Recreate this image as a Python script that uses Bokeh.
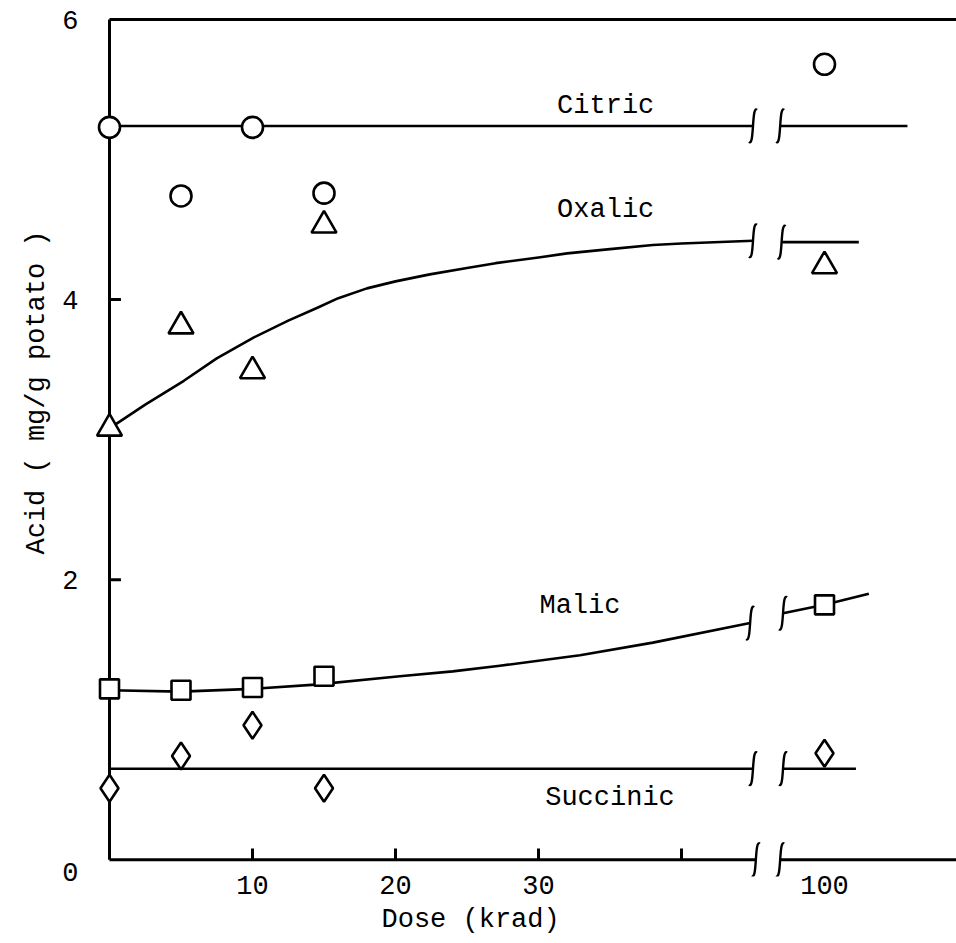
import math
from bokeh.plotting import figure
from bokeh.models import FixedTicker, Range1d, Title
from bokeh.core.properties import value
from bokeh.embed import file_html
from bokeh.resources import INLINE

# ---- data ----
dose = [0, 5, 10, 15, 100]
citric = [5.23, 4.74, 5.23, 4.76, 5.68]
oxalic = [3.08, 3.81, 3.49, 4.53, 4.24]
malic = [1.22, 1.21, 1.23, 1.31, 1.82]
succinic = [0.51, 0.74, 0.96, 0.51, 0.76]

# fitted curves (dose, value)
citric_fit_dose = [0, 45, 69, 158]
citric_fit = [5.24, 5.24, 5.24, 5.24]
oxalic_fit_dose = [0, 2.5, 5.2, 7.5, 10.1, 12.5, 14.5, 16, 18, 20, 22.4, 25, 27, 30, 32, 35, 38, 40, 45, 70, 124]
oxalic_fit = [3.08, 3.25, 3.42, 3.58, 3.73, 3.85, 3.94, 4.01, 4.08, 4.13, 4.18, 4.225, 4.26, 4.30, 4.33, 4.36, 4.39, 4.40, 4.42, 4.41, 4.41]
malic_fit_dose = [0, 5, 10, 14.4, 20.3, 24, 27.3, 32.9, 38.0, 44.8, 71, 100, 131]
malic_fit = [1.21, 1.20, 1.22, 1.25, 1.31, 1.345, 1.385, 1.46, 1.55, 1.69, 1.76, 1.82, 1.90]
succinic_fit_dose = [0, 45, 71, 122]
succinic_fit = [0.65, 0.65, 0.65, 0.65]

names = ["Citric", "Oxalic", "Malic", "Succinic"]
name_dose = [34.7, 34.7, 32.9, 35.0]
name_val = [5.38, 4.64, 1.81, 0.44]

y_ticks = [0, 2, 4, 6]
x_ticks = [10, 20, 30, 100]
x_tick_marks = [10, 20, 30, 40]
ORIGIN_LABEL_DROP = 0.09   # the "0" sits a little below the x axis

# ---- broken x scale: linear up to 45 krad, compressed after the break ----
BREAK_LO = 45.2
BREAK_HI = 46.9


def xpos(d):
    return d if d <= BREAK_LO else 50 + (d - 100) * 0.1


FONT = "Liberation Mono"
FS = "27px"
LW = 2.6
W, H = 956, 943

x_end = (W - 109) / 14.3
p = figure(width=W, height=H,
           x_range=Range1d(-21 / 14.3, x_end), y_range=Range1d(-0.12, 859 / 140),
           output_backend="svg", toolbar_location=None,
           min_border_left=88, min_border_right=0, min_border_top=0,
           min_border_bottom=H - 876)
p.title = None
p.outline_line_color = None
p.xgrid.visible = False
p.ygrid.visible = False
p.background_fill_color = "white"
p.border_fill_color = "white"

# Bokeh axes supply the tick labels
for ax in (p.xaxis[0], p.yaxis[0]):
    ax.axis_line_color = None
    ax.major_tick_line_color = None
    ax.minor_tick_line_color = None
    ax.major_label_text_font = FONT
    ax.major_label_text_font_size = FS
    ax.major_label_text_color = "black"
y_label_pos = [t if t != 0 else -ORIGIN_LABEL_DROP for t in y_ticks]
p.yaxis.ticker = FixedTicker(ticks=y_label_pos)
p.yaxis.major_label_overrides = {pos: str(t) for pos, t in zip(y_label_pos, y_ticks)}
p.yaxis.major_label_standoff = 4
x_label_pos = [xpos(t) for t in x_ticks]
p.xaxis.ticker = FixedTicker(ticks=x_label_pos)
p.xaxis.major_label_overrides = {pos: str(t) for pos, t in zip(x_label_pos, x_ticks)}
p.xaxis.major_label_standoff = -7

# axis titles
p.add_layout(Title(text="Dose (krad)", align="left", offset=293, standoff=12,
                   text_font=FONT, text_font_size=FS, text_font_style="normal",
                   text_color="black"), "below")
p.add_layout(Title(text="Acid ( mg/g potato )", align="left", offset=322, standoff=15,
                   text_font=FONT, text_font_size=FS, text_font_style="normal",
                   text_color="black"), "left")

# frame lines (axis lines drawn at x=0 and y=0)
ytop = max(y_ticks)
p.segment(x0=[0], y0=[0], x1=[0], y1=[ytop], line_color="black", line_width=3)
p.segment(x0=[0], y0=[ytop], x1=[x_end], y1=[ytop], line_color="black", line_width=3)
p.segment(x0=[0, BREAK_HI], y0=[0, 0], x1=[BREAK_LO, x_end], y1=[0, 0], line_color="black", line_width=3)
# inward ticks
inner = [t for t in y_ticks if 0 < t < ytop]
p.segment(x0=[0] * len(inner), y0=inner, x1=[0.8] * len(inner), y1=inner, line_color="black", line_width=3)
p.segment(x0=x_tick_marks, y0=[0] * len(x_tick_marks), x1=x_tick_marks, y1=[0.08] * len(x_tick_marks),
          line_color="black", line_width=3)

# fitted curves, split at the break
break_x0, break_y0, break_x1, break_y1 = [], [], [], []
for fd, fv in [(citric_fit_dose, citric_fit), (oxalic_fit_dose, oxalic_fit),
               (malic_fit_dose, malic_fit), (succinic_fit_dose, succinic_fit)]:
    pre = [(xpos(d), v) for d, v in zip(fd, fv) if d <= BREAK_LO]
    post = [(xpos(d), v) for d, v in zip(fd, fv) if d > BREAK_LO]
    p.line([a for a, b in pre], [b for a, b in pre], line_color="black", line_width=LW, line_join="round")
    p.line([a for a, b in post], [b for a, b in post], line_color="black", line_width=LW, line_join="round")
    break_x0.append(pre[-1][0]); break_y0.append(pre[-1][1])
    break_x1.append(post[0][0]); break_y1.append(post[0][1])
break_x0.append(BREAK_LO); break_y0.append(0)
break_x1.append(BREAK_HI); break_y1.append(0)

# integral-like break marks
hh = 16 / 140.0
dx = 4 / 14.3
bx = break_x0 + break_x1
by = break_y0 + break_y1
p.bezier(x0=[x + dx for x in bx], y0=[y + hh for y in by],
         x1=[x - dx for x in bx], y1=[y - hh for y in by],
         cx0=[x - dx * 0.4 for x in bx], cy0=[y + hh * 1.3 for y in by],
         cx1=[x + dx * 0.4 for x in bx], cy1=[y - hh * 1.3 for y in by],
         line_color="black", line_width=2.4)

# data markers
xs = [xpos(d) for d in dose]
p.scatter(xs, citric, marker="circle", size=21, fill_color="white", line_color="black", line_width=2.6)
p.scatter(xs, oxalic, marker="triangle", size=25, fill_color="white", line_color="black", line_width=2.6)
p.scatter(xs, malic, marker="square", size=19, fill_color="white", line_color="black", line_width=2.6)
p.scatter(xs, succinic, marker="diamond", size=27, fill_color="white", line_color="black", line_width=2.6)

# curve names
p.text(x=name_dose, y=name_val, text=names, text_font=value(FONT), text_font_size=FS,
       text_align="center", text_baseline="middle", text_color="black")

open("out.html", "w").write(file_html(p, INLINE))
